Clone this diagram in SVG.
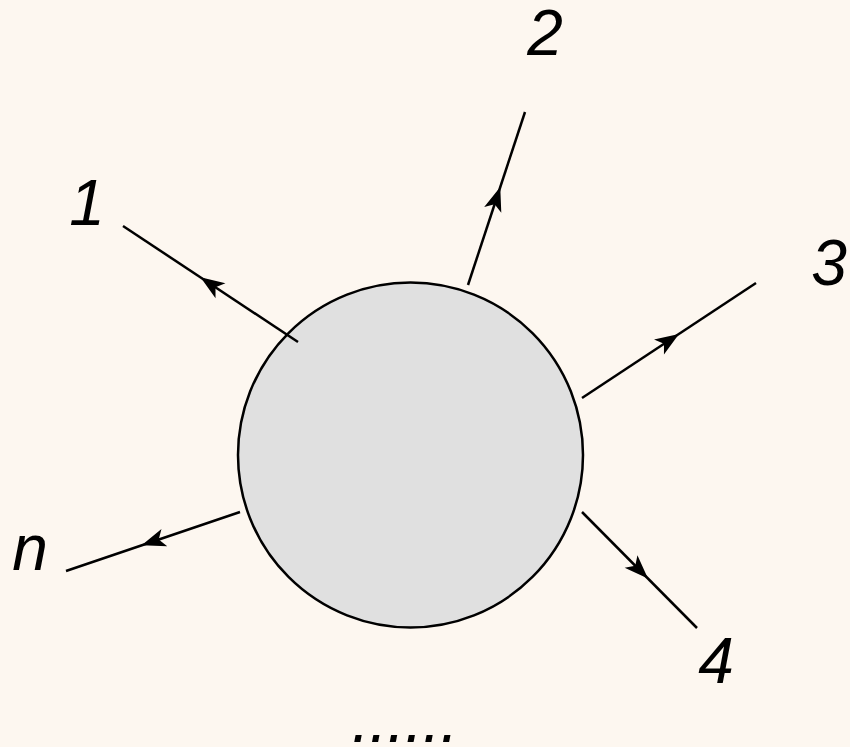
<svg xmlns="http://www.w3.org/2000/svg" width="850" height="747" viewBox="0 0 850 747">
<style>
.leg{fill:none;stroke:#000;stroke-width:2.5;marker-mid:url(#arr)}
.lbl{font-family:"Liberation Sans",Arial,sans-serif;font-style:italic;font-size:64px;fill:#000;text-anchor:middle}
</style>
<defs>
<marker id="arr" markerUnits="userSpaceOnUse" viewBox="-14 -10 28 20" markerWidth="28" markerHeight="20" refX="0" refY="0" orient="auto">
<path d="M12,0 L-12,-9 L-6,0 L-12,9 Z" fill="#000"/>
</marker>
</defs>
<rect width="850" height="747" fill="#fdf7f0"/>
<g id="blob">
<circle cx="410.5" cy="455" r="172.5" fill="#e0e0e0" stroke="#000" stroke-width="2.5"/>
</g>
<g id="connectors">
<path class="leg" d="M298,342 L210.5,284 L123,226"/>
<path class="leg" d="M468,285 L496.5,198.5 L525,112"/>
<path class="leg" d="M582,398 L669,340.5 L756,283"/>
<path class="leg" d="M582,512 L639.5,570 L697,628"/>
<path class="leg" d="M240,512 L153,541.5 L66,571"/>
</g>
<g id="label-1"><text class="lbl" x="87" y="225">1</text></g>
<g id="label-2"><text class="lbl" x="545" y="55">2</text></g>
<g id="label-3"><text class="lbl" x="829" y="285">3</text></g>
<g id="label-4"><text class="lbl" x="716" y="683">4</text></g>
<g id="label-n"><text class="lbl" x="30" y="570">n</text></g>
<g id="label-dots"><text class="lbl" x="405" y="742">......</text></g>
</svg>
